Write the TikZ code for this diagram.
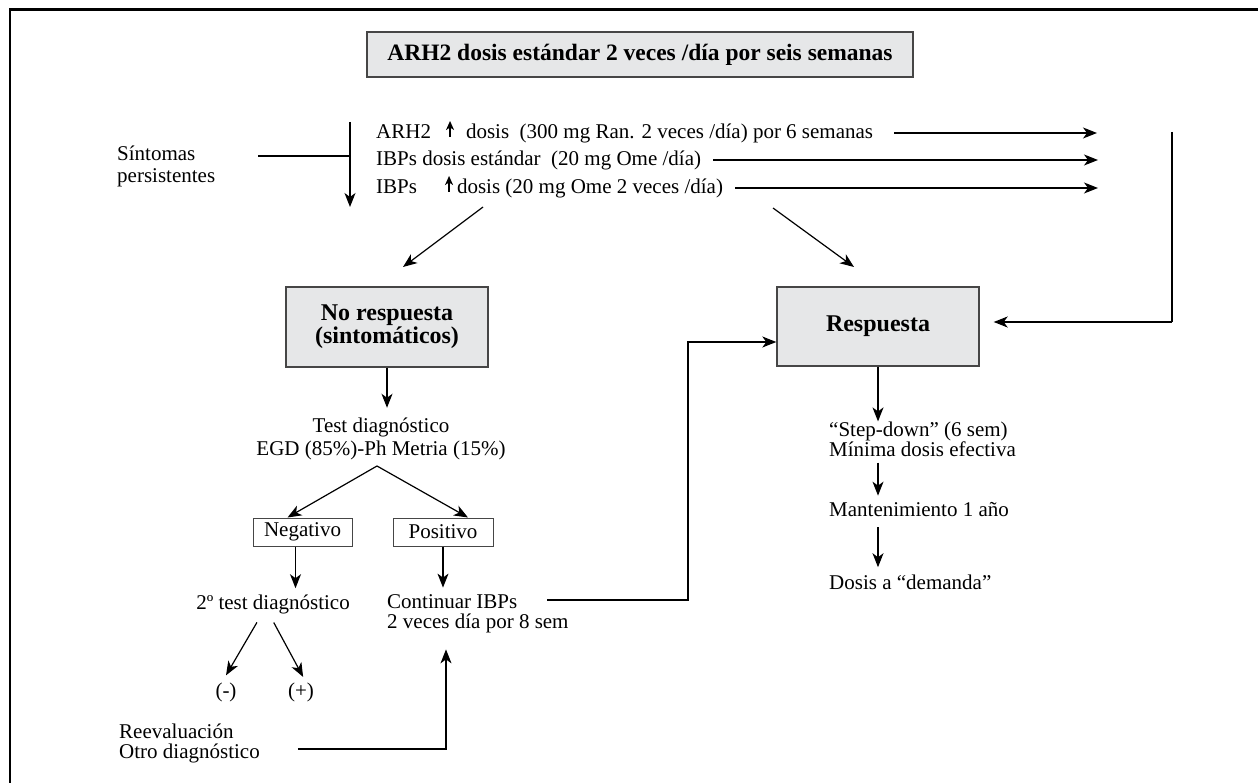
\documentclass[tikz,border=0pt]{standalone}
\usepackage{fontspec}
\setmainfont{Liberation Serif}
\usetikzlibrary{arrows.meta, positioning}
\definecolor{grisclaro}{RGB}{230,231,232}
\definecolor{borde}{RGB}{70,70,70}
\tikzstyle{grayblock} = [rectangle, draw=borde, line width=1.4pt, fill=grisclaro,
  inner sep=0pt, align=center, font=\fontsize{24}{21}\selectfont\bfseries]
\tikzstyle{tag} = [rectangle, draw=borde, line width=1pt, fill=white,
  minimum width=99pt, minimum height=28pt, inner sep=0pt]
\tikzstyle{note} = [inner sep=0pt]
\tikzstyle{arrow} = [line width=1.2pt, -{Stealth[length=14pt, width=11pt, inset=4pt]}]
\newcommand{\sube}{\tikz[baseline=0pt, x=1pt, y=1pt]\draw[line width=1.2pt,
  -{Stealth[length=9pt, width=8pt, inset=2.5pt]}] (0,2) -- (0,18);}

\begin{document}
\begin{tikzpicture}[x=1pt, y=-1pt, font=\fontsize{21}{21}\selectfont]
    \useasboundingbox (0,0) rectangle (1258,783);
    % marco
    \draw[line width=3pt] (9,10) -- (1258,10);
    \draw[line width=1.5pt] (10,10) -- (10,783);

    \node[grayblock, minimum width=546pt, minimum height=45pt,
      font=\fontsize{23.5}{21}\selectfont\bfseries] (titulo) at (640,54.5)
      {ARH2 dosis estándar 2 veces /día por seis semanas};

    % entrada
    \node[note, anchor=west, align=left, font=\fontsize{21}{22}\selectfont] (sintomas) at (117,166)
      {Síntomas\\persistentes};
    \coordinate (linea) at (258,156);
    \coordinate (cruce) at (350,156);
    \coordinate (arriba) at (350,122);
    \coordinate (abajo) at (350,207);
    \draw[line width=1.2pt] (linea) -- (cruce);
    \draw[arrow] (arriba) -- (abajo);

    \node[note, anchor=base west] (op1) at (376,139)
      {ARH2\hspace{15pt}\sube\hspace{12pt}dosis\ \ (300 mg Ran. 2 veces /día) por 6 semanas};
    \node[note, anchor=base west] (op2) at (376,166)
      {IBPs dosis estándar\ \ (20 mg Ome /día)};
    \node[note, anchor=base west] (op3) at (376,194)
      {IBPs\hspace{28pt}\sube\hspace{4pt}dosis (20 mg Ome 2 veces /día)};
    \coordinate (fin1) at (1097,133);
    \coordinate (fin2) at (1098,160);
    \coordinate (fin3) at (1098,188);
    \draw[arrow] (op1.east |- fin1) ++(21,0) -- (fin1);
    \draw[arrow] (op2.east |- fin2) ++(12,0) -- (fin2);
    \draw[arrow] (op3.east |- fin3) ++(12,0) -- (fin3);

    % retorno derecho
    \coordinate (der1) at (1172,132);
    \coordinate (der2) at (1172,322);
    \draw[line width=1.2pt] (der1) -- (der2);

    % cajas de respuesta
    \node[grayblock, minimum width=202pt, minimum height=80pt] (nores) at (387,327)
      {No respuesta\\(sintomáticos)};
    \node[grayblock, minimum width=202pt, minimum height=79pt] (resp) at (878,326.5) {Respuesta};
    \draw[arrow, shorten >=14pt] (der2) -- (resp.east |- der2);

    \coordinate (de1) at (483,207);
    \coordinate (a1) at (403,267);
    \coordinate (de2) at (773,208);
    \coordinate (a2) at (854,267);
    \draw[arrow] (de1) -- (a1);
    \draw[arrow] (de2) -- (a2);

    % rama izquierda
    \node[note, align=center, font=\fontsize{21}{23}\selectfont] (test) at (381,439)
      {Test diagnóstico\\EGD (85\%)-Ph Metria (15\%)};
    \draw[arrow, shorten >=10pt] (nores.south) -- (nores.south |- test.north);
    \coordinate (rama) at (377,466);
    \node[tag] (neg) at (302.5,532) {Negativo};
    \node[tag, minimum width=100pt] (pos) at (443,532) {Positivo};
    \draw[arrow] (rama) -- ([xshift=-15pt]neg.north);
    \draw[arrow] (rama) -- ([xshift=25pt]pos.north);

    \node[note, anchor=base] (seg) at (273,609) {2º test diagnóstico};
    \node[note, anchor=west, align=left, font=\fontsize{21}{20}\selectfont] (cont) at (387,614)
      {Continuar IBPs\\2 veces día por 8 sem};
    \draw[arrow, shorten >=6pt] ([xshift=-7pt]neg.south) -- ([xshift=-7pt]neg.south |- seg.north);
    \draw[arrow, shorten >=7pt] (pos.south) -- (pos.south |- cont.north);

    \node[note, anchor=base] (menos) at (226,697) {(-)};
    \node[note, right=75pt of menos.base, anchor=base] (mas) {(+)};
    \draw[arrow, shorten <=10pt, shorten >=8pt] ([xshift=-11pt]seg.south) -- ([xshift=-4pt]menos.north);
    \draw[arrow, shorten <=10pt, shorten >=6pt] ([xshift=-4pt]seg.south) -- ([xshift=5pt]mas.north);

    \node[note, anchor=west, align=left, font=\fontsize{21}{20}\selectfont] (reev) at (119,743)
      {Reevaluación\\Otro diagnóstico};
    \draw[arrow, shorten >=16pt] ([xshift=38pt, yshift=-6pt]reev.east) -| ([xshift=59pt]cont.south west);

    \coordinate (contsal) at (547,600);
    \coordinate (codo) at (688,342);
    \draw[arrow] (contsal) -| (codo) -- ([yshift=-15.5pt]resp.west);

    % rama derecha
    \node[note, anchor=west, align=left, font=\fontsize{21}{20}\selectfont] (step) at (829,439)
      {“Step-down” (6 sem)\\Mínima dosis efectiva};
    \node[note, anchor=base west] (mant) at (829,516) {Mantenimiento 1 año};
    \node[note, anchor=base west] (dem) at (829,589) {Dosis a “demanda”};
    \draw[arrow] (resp.south) -- (resp.south |- step.north);
    \draw[arrow, shorten <=6pt, shorten >=6pt] (step.south -| resp.south) -- (mant.north -| resp.south);
    \draw[arrow, shorten <=11pt, shorten >=7pt] (mant.south -| resp.south) -- (dem.north -| resp.south);
  \end{tikzpicture}
\end{document}
